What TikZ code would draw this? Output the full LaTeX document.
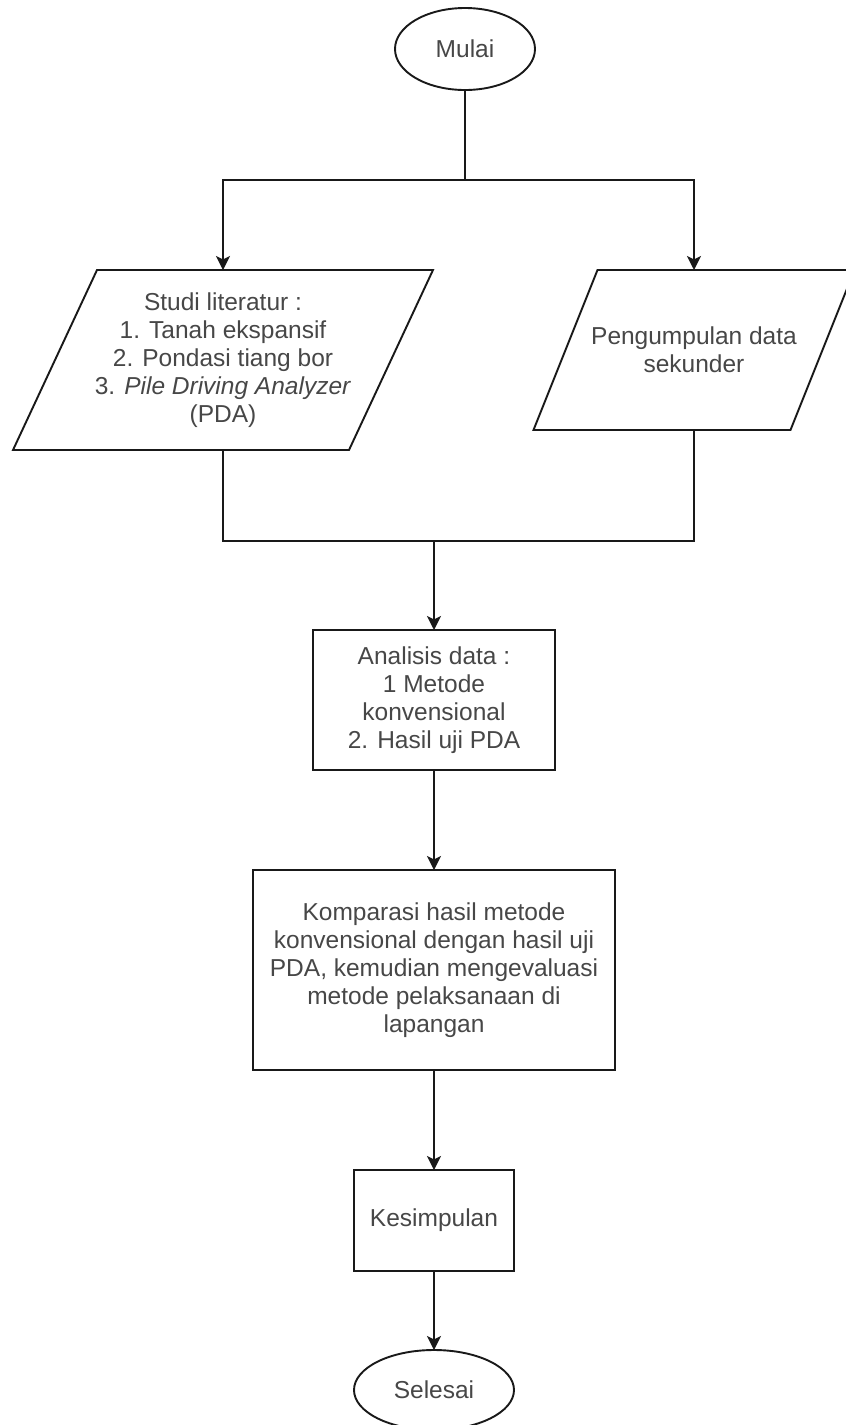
\documentclass[tikz,border=0pt]{standalone}
\usepackage{fontspec}
\setmainfont{Liberation Sans}
\usetikzlibrary{shapes.geometric,arrows.meta}
\begin{document}
\begin{tikzpicture}[x=1pt,y=-1pt,
  every node/.style={font=\fontsize{24.5}{28}\selectfont, text=black!72, align=center, inner sep=0pt, outer sep=0pt},
  line/.style={draw=black!90, line width=1.9pt},
  box/.style={line, rectangle},
  term/.style={line, ellipse},
  iobox/.style={rectangle},
  con/.style={line},
  arr/.style={con, -{Stealth[length=14pt,width=14pt,inset=3.5pt]}}]
\useasboundingbox (0,0) rectangle (846,1425);
\clip (0,0) rectangle (846,1425);
\fill[white] (0,0) rectangle (846,1425);

\node[term, minimum width=140pt, minimum height=82pt] (mulai) at (465,49) {Mulai};

\node[iobox, minimum width=420pt, minimum height=180pt] (lit) at (223,360)
  {Studi literatur :\\1. Tanah ekspansif\\2. Pondasi tiang bor\\3. \textit{Pile Driving Analyzer}\\(PDA)};
\draw[line, line join=miter] (lit.south west) -- ([xshift=84pt]lit.north west) -- (lit.north east)
  -- ([xshift=-84pt]lit.south east) -- cycle;

\node[iobox, minimum width=321pt, minimum height=160pt] (peng) at (694,350)
  {Pengumpulan data\\sekunder};
\draw[line, line join=miter] (peng.south west) -- ([xshift=64pt]peng.north west) -- (peng.north east)
  -- ([xshift=-64pt]peng.south east) -- cycle;

\node[box, minimum width=242pt, minimum height=140pt] (ana) at (434,700)
  {Analisis data :\\1 Metode\\konvensional\\2. Hasil uji PDA};

\node[box, minimum width=362pt, minimum height=200pt] (komp) at (434,970)
  {Komparasi hasil metode\\konvensional dengan hasil uji\\PDA, kemudian mengevaluasi\\metode pelaksanaan di\\lapangan};

\node[box, minimum width=160pt, minimum height=101pt] (kes) at (434,1220.5) {Kesimpulan};

\node[term, minimum width=160pt, minimum height=80pt] (sel) at (434,1390) {Selesai};

\coordinate (split) at (465,180);
\coordinate (merge) at (434,541);

\draw[con] (mulai.south) -- (split);
\draw[arr] (split) -| (lit.north);
\draw[arr] (split) -| (peng.north);
\draw[con] (lit.south) |- (merge);
\draw[con] (peng.south) |- (merge);
\draw[arr] (merge) -- (ana.north);
\draw[arr] (ana.south) -- (komp.north);
\draw[arr] (komp.south) -- (kes.north);
\draw[arr] (kes.south) -- (sel.north);
\end{tikzpicture}
\end{document}
